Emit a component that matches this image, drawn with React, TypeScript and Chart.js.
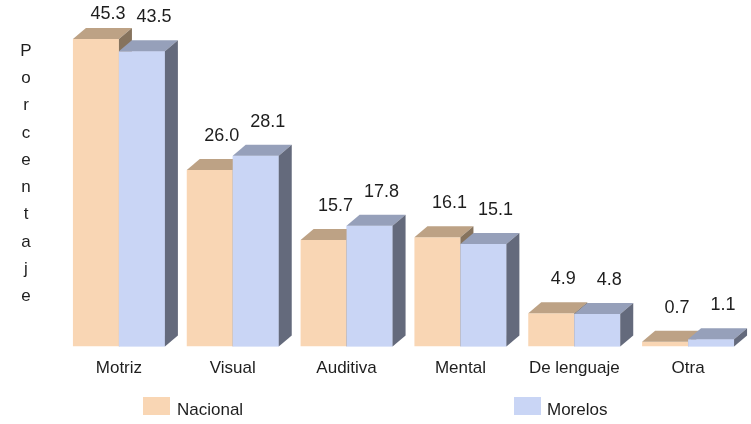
import React, { useEffect, useRef } from 'react';
import { Chart, registerables } from 'chart.js';

Chart.register(...registerables);

const categories = ['Motriz', 'Visual', 'Auditiva', 'Mental', 'De lenguaje', 'Otra'];
const nacional = [45.3, 26.0, 15.7, 16.1, 4.9, 0.7];
const morelos = [43.5, 28.1, 17.8, 15.1, 4.8, 1.1];
const seriesNames = ['Nacional', 'Morelos'];
const yTitle = 'Porcentaje';

const FONT = '"Liberation Sans", Arial, sans-serif';
const FRONT = ['#F9D6B4', '#C9D5F5'];
const TOP = ['#BDA285', '#96A0BA'];
const SIDE = ['#86735D', '#646A7C'];
const DX = 13;
const DY = 11;

function faces(ctx: any, bar: any, ds: number) {
  const p = bar.getProps(['x', 'y', 'base', 'width'], true);
  const l = p.x - p.width / 2;
  const r = p.x + p.width / 2;
  const t = p.y;
  const b = p.base;
  ctx.fillStyle = TOP[ds];
  ctx.beginPath();
  ctx.moveTo(l, t);
  ctx.lineTo(l + DX, t - DY);
  ctx.lineTo(r + DX, t - DY);
  ctx.lineTo(r, t);
  ctx.closePath();
  ctx.fill();
  ctx.fillStyle = SIDE[ds];
  ctx.beginPath();
  ctx.moveTo(r, t);
  ctx.lineTo(r + DX, t - DY);
  ctx.lineTo(r + DX, b - DY);
  ctx.lineTo(r, b);
  ctx.closePath();
  ctx.fill();
}

const threeD = {
  id: 'threeD',
  afterDatasetsDraw(chart: any) {
    const ctx = chart.ctx;
    ctx.save();
    const m0 = chart.getDatasetMeta(0);
    const m1 = chart.getDatasetMeta(1);
    m0.data.forEach((bar0: any, j: number) => {
      const bar1 = m1.data[j];
      faces(ctx, bar0, 0);
      bar1.draw(ctx);
      faces(ctx, bar1, 1);
    });
    ctx.font = `18px ${FONT}`;
    ctx.fillStyle = '#1e1e1e';
    ctx.textAlign = 'center';
    ctx.textBaseline = 'middle';
    chart.data.datasets.forEach((d: any, i: number) => {
      const meta = chart.getDatasetMeta(i);
      meta.data.forEach((bar: any, j: number) => {
        const p = bar.getProps(['x', 'y'], true);
        const y = Math.max(14, p.y - 34);
        ctx.fillText(Number(d.data[j]).toFixed(1), p.x + 12, y);
      });
    });
    ctx.font = `17px ${FONT}`;
    const letters = yTitle.split('');
    letters.forEach((ch, k) => {
      ctx.fillText(ch, 26, 51 + k * 27.3);
    });
    ctx.restore();
  },
};

export default function App() {
  const ref = useRef<HTMLCanvasElement>(null);
  useEffect(() => {
    document.body.style.margin = '0';
    const chart = new Chart(ref.current as HTMLCanvasElement, {
      type: 'bar',
      data: {
        labels: categories,
        datasets: [
          { label: seriesNames[0], data: nacional, backgroundColor: FRONT[0], categoryPercentage: 0.808, barPercentage: 1 },
          { label: seriesNames[1], data: morelos, backgroundColor: FRONT[1], categoryPercentage: 0.808, barPercentage: 1 },
        ],
      },
      options: {
        responsive: false,
        animation: false,
        layout: { padding: { left: 62, right: 6, top: 7, bottom: 41 } },
        plugins: { legend: { display: false }, tooltip: { enabled: false } },
        scales: {
          x: {
            grid: { display: false },
            border: { display: false },
            ticks: { padding: 4, color: '#1e1e1e', font: { family: FONT, size: 17 }, maxRotation: 0, autoSkip: false },
          },
          y: { display: false, min: 0, max: 50 },
        },
      },
      plugins: [threeD],
    });
    return () => chart.destroy();
  }, []);

  const legendText: React.CSSProperties = {
    position: 'absolute', top: 400, fontFamily: FONT, fontSize: 17, color: '#1e1e1e', lineHeight: '20px',
  };
  return (
    <div style={{ position: 'relative', width: 751, height: 424, background: '#fff', overflow: 'hidden' }}>
      <canvas ref={ref} width={751} height={424} style={{ position: 'absolute', left: 0, top: 0 }} />
      <div style={{ position: 'absolute', left: 143, top: 397, width: 27, height: 18, background: FRONT[0] }} />
      <div style={{ ...legendText, left: 177 }}>{seriesNames[0]}</div>
      <div style={{ position: 'absolute', left: 514, top: 397, width: 27, height: 18, background: FRONT[1] }} />
      <div style={{ ...legendText, left: 547 }}>{seriesNames[1]}</div>
    </div>
  );
}
